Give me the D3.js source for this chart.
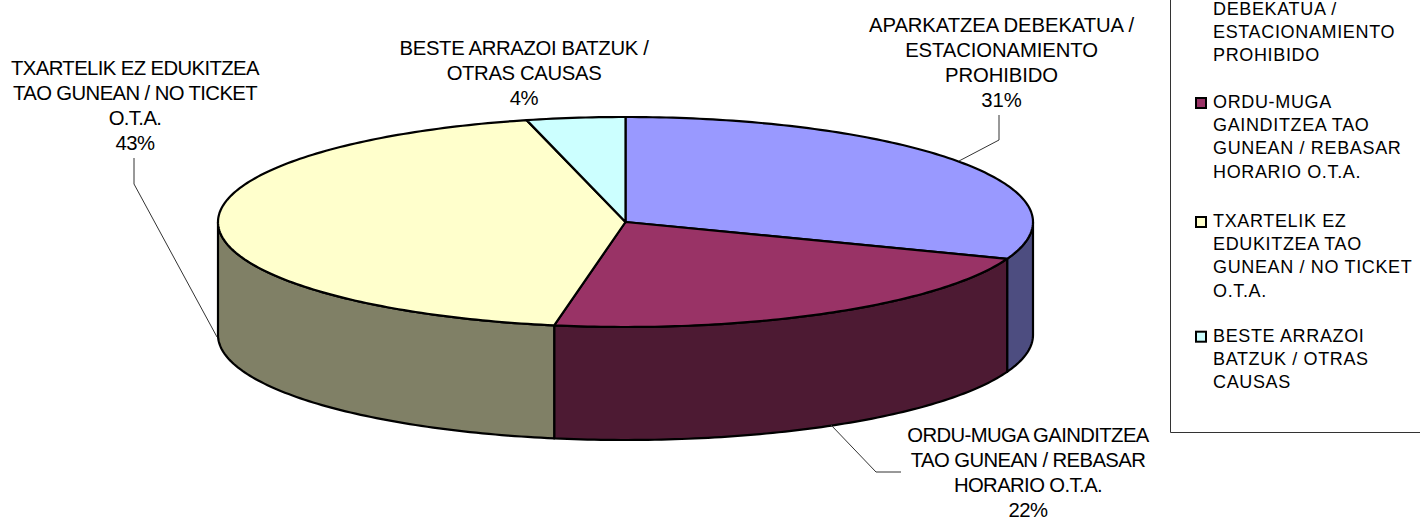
<!DOCTYPE html>
<html>
<head>
<meta charset="utf-8">
<script src="https://cdn.jsdelivr.net/npm/d3@7"></script>
<style>
    html, body { margin: 0; padding: 0; background: #fff; overflow: hidden; }
    text { font-family: "Liberation Sans", Arial, sans-serif; fill: #000; }
</style>
</head>
<body>
<div id="chart"></div>
<script>
const categories = ["APARKATZEA", "ORDU-MUGA", "TXARTELIK", "BESTE"];
// the labels show them rounded
const shares = [30.7, 22.1, 43.3, 3.9];
const topColors = ["#9999FF", "#993366", "#FFFFCC", "#CCFFFF"];
const sideColors = ["#4D4D80", "#4D1A33", "#808066", "#668080"];

const labelLines = [
    ["APARKATZEA DEBEKATUA /", "ESTACIONAMIENTO", "PROHIBIDO"],
    ["ORDU-MUGA GAINDITZEA", "TAO GUNEAN / REBASAR", "HORARIO O.T.A."],
    ["TXARTELIK EZ EDUKITZEA", "TAO GUNEAN / NO TICKET", "O.T.A."],
    ["BESTE ARRAZOI BATZUK /", "OTRAS CAUSAS"]
];
const legendLines = [
    ["APARKATZEA", "DEBEKATUA /", "ESTACIONAMIENTO", "PROHIBIDO"],
    ["ORDU-MUGA", "GAINDITZEA TAO", "GUNEAN / REBASAR", "HORARIO O.T.A."],
    ["TXARTELIK EZ", "EDUKITZEA TAO", "GUNEAN / NO TICKET", "O.T.A."],
    ["BESTE ARRAZOI", "BATZUK / OTRAS", "CAUSAS"]
];

// where the callouts sit, same order as categories
const labelPlace = [
    { x: 1001.5, y: 32, spacing: -0.1, leader: [[999, 115], [999, 140], [959, 161]] },
    { x: 1028, y: 441.7, spacing: -0.6, leader: [[831, 425], [876, 472], [901, 472]] },
    { x: 135, y: 75, spacing: -0.6, leader: [[134, 158], [134, 184], [217, 337]] },
    { x: 524, y: 54.5, spacing: -0.35, leader: null }
];
const legendTop = [-8.7, 108, 227, 341.7];

const width = 1420, height = 518;
const depth = 113;

const svg = d3.select("#chart").append("svg")
    .attr("width", width)
    .attr("height", height)
    .style("display", "block");

const x = d3.scaleLinear().domain([-1, 1]).range([218, 1033]);
const y = d3.scaleLinear().domain([-1, 1]).range([117, 327]);

const slices = d3.pie().sort(null).value(d => d)(shares);
const pct = d3.format(".0f");

const rimX = a => x(Math.sin(a));
const rimY = a => y(-Math.cos(a));

// points along the rim between two angles
function rim(a0, a1) {
    const n = Math.max(2, Math.ceil((a1 - a0) * 60));
    return d3.range(n + 1).map(i => a0 + (a1 - a0) * i / n);
}

const line = d3.line();

// side walls, only the front half of the disc shows them
slices.forEach((s, i) => {
    const a0 = Math.max(s.startAngle, Math.PI / 2);
    const a1 = Math.min(s.endAngle, 3 * Math.PI / 2);
    if (a1 <= a0) return;
    const angles = rim(a0, a1);
    const upper = angles.map(a => [rimX(a), rimY(a)]);
    const lower = angles.slice().reverse().map(a => [rimX(a), rimY(a) + depth]);
    svg.append("path")
        .attr("d", line(upper.concat(lower)) + "Z")
        .attr("fill", sideColors[i])
        .attr("stroke", "#000")
        .attr("stroke-width", 2.2)
        .attr("stroke-linejoin", "round");
});

// top of the disc
slices.forEach((s, i) => {
    const pts = rim(s.startAngle, s.endAngle).map(a => [rimX(a), rimY(a)]);
    pts.unshift([x(0), y(0)]);
    svg.append("path")
        .attr("d", line(pts) + "Z")
        .attr("fill", topColors[i])
        .attr("stroke", "#000")
        .attr("stroke-width", 2.2)
        .attr("stroke-linejoin", "round");
});

// callouts
const lineGap = 25.1;
labelLines.forEach((lines, i) => {
    const place = labelPlace[i];
    const all = lines.concat(pct(shares[i]) + "%");
    svg.append("text")
        .attr("text-anchor", "middle")
        .attr("font-size", 20.3)
        .attr("letter-spacing", place.spacing)
        .selectAll("tspan")
        .data(all)
        .join("tspan")
        .attr("x", place.x)
        .attr("y", (d, k) => place.y + k * lineGap)
        .text(d => d);
    if (place.leader) {
        svg.append("path")
            .attr("d", line(place.leader))
            .attr("fill", "none")
            .attr("stroke", "#333")
            .attr("stroke-width", 1);
    }
});

// legend box, cut off by the top and right of the picture
svg.append("path")
    .attr("d", line([[1170.5, 0], [1170.5, 432.5], [width, 432.5]]))
    .attr("fill", "none")
    .attr("stroke", "#333")
    .attr("stroke-width", 1);

const legendGap = 23.2;
legendLines.forEach((lines, i) => {
    svg.append("rect")
        .attr("x", 1196)
        .attr("y", legendTop[i] - 10)
        .attr("width", 10)
        .attr("height", 10)
        .attr("fill", topColors[i])
        .attr("stroke", "#000")
        .attr("stroke-width", 2);
    svg.append("text")
        .attr("font-size", 18)
        .attr("letter-spacing", 0.65)
        .selectAll("tspan")
        .data(lines)
        .join("tspan")
        .attr("x", 1213)
        .attr("y", (d, k) => legendTop[i] + k * legendGap)
        .text(d => d);
});
</script>
</body>
</html>
